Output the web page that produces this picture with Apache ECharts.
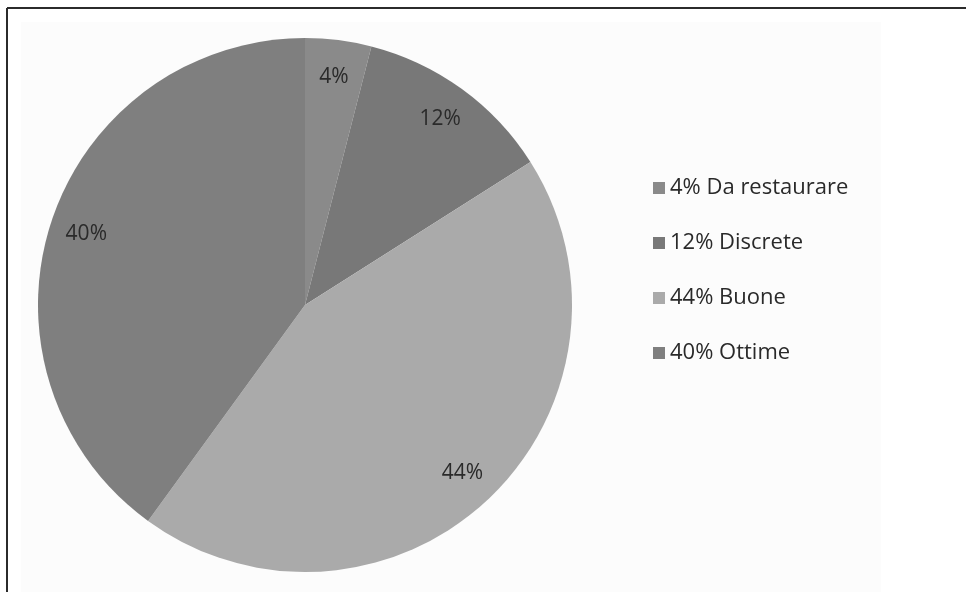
<!DOCTYPE html>
<html>
<head>
<meta charset="utf-8">
<script src="https://cdn.jsdelivr.net/npm/echarts@6/dist/echarts.min.js"></script>
<style>
  html, body { margin: 0; padding: 0; background: #ffffff; }
  #chart { width: 966px; height: 592px; }
</style>
</head>
<body>
<div id="chart"></div>
<script>
// Condition of the surveyed buildings
const categories = ['Da restaurare', 'Discrete', 'Buone', 'Ottime'];
const shares = [4, 12, 44, 40];
const sliceColors = ['#8a8a8a', '#787878', '#aaaaaa', '#7f7f7f'];

const CX = 305, CY = 305, R = 267;
const FONT = '"Open Sans", Lato, "DejaVu Sans", sans-serif';

const pieData = categories.map((name, i) => ({
  name: name,
  value: shares[i],
  itemStyle: { color: sliceColors[i] }
}));

const chart = echarts.init(document.getElementById('chart'), null, { renderer: 'canvas' });

chart.setOption({
  backgroundColor: '#ffffff',
  animation: false,
  graphic: [
    { type: 'rect', silent: true, z: -10,
      shape: { x: 21, y: 22, width: 860, height: 570 },
      style: { fill: '#fcfcfc' } },
    { type: 'line', silent: true,
      shape: { x1: 7, y1: 8, x2: 966, y2: 8 },
      style: { stroke: '#2b2b2b', lineWidth: 2 } },
    { type: 'line', silent: true,
      shape: { x1: 7, y1: 8, x2: 7, y2: 592 },
      style: { stroke: '#2b2b2b', lineWidth: 2 } }
  ],
  legend: {
    orient: 'vertical',
    left: 648,
    top: 171,
    itemWidth: 12,
    itemHeight: 12,
    itemGap: 31,
    icon: 'rect',
    data: categories,
    formatter: function (name) {
      return shares[categories.indexOf(name)] + '% ' + name;
    },
    textStyle: { fontFamily: FONT, fontSize: 22, color: '#2a2a2a', lineHeight: 24, padding: [0, 0, 0, 0] }
  },
  series: [
    {
      name: 'Condizioni',
      type: 'pie',
      center: [CX, CY],
      radius: R,
      startAngle: 90,
      clockwise: true,
      label: { show: false },
      labelLine: { show: false },
      itemStyle: { borderWidth: 0 },
      emphasis: { disabled: true },
      data: pieData
    },
    {
      // transparent ring carrying the percentage labels near the rim
      name: 'Etichette',
      type: 'pie',
      center: [CX, CY],
      radius: [R * 0.7, R],
      startAngle: 90,
      clockwise: true,
      silent: true,
      itemStyle: { color: 'rgba(0,0,0,0)', borderWidth: 0 },
      label: {
        show: true,
        position: 'inside',
        formatter: '{c}%',
        fontFamily: FONT,
        fontSize: 21,
        color: '#2a2a2a'
      },
      labelLine: { show: false },
      emphasis: { disabled: true },
      data: categories.map((name, i) => ({ name: name, value: shares[i] }))
    }
  ]
});
</script>
</body>
</html>
